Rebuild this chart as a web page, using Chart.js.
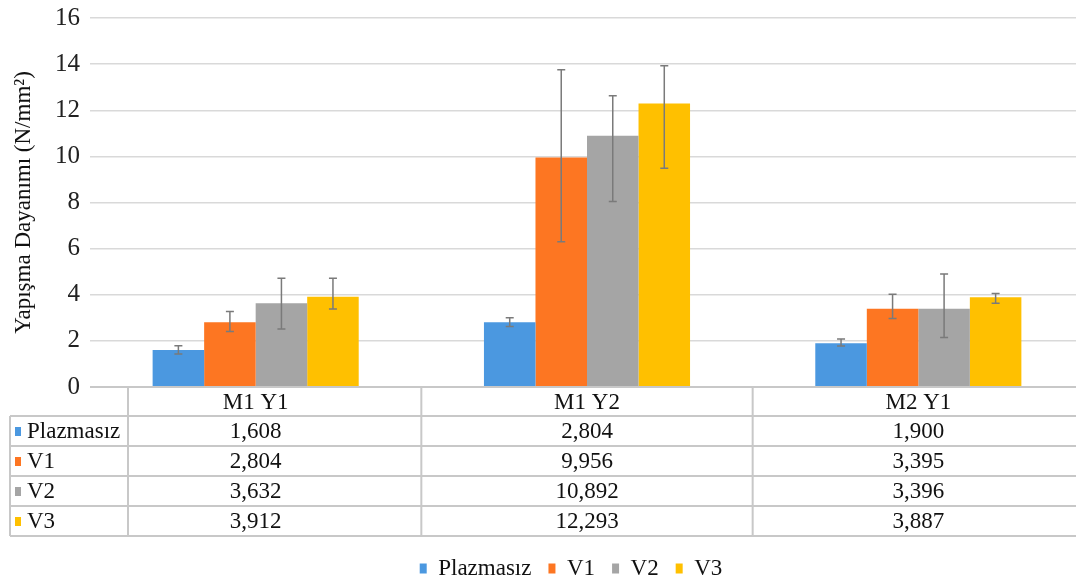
<!DOCTYPE html>
<html>
<head>
<meta charset="utf-8">
<script src="https://cdn.jsdelivr.net/npm/chart.js@4/dist/chart.umd.min.js"></script>
<style>
  html, body { margin: 0; padding: 0; background: #fff; overflow: hidden; }
  #wrap { width: 1084px; height: 590px; }
</style>
</head>
<body>
<div id="wrap"><canvas id="yapismaChart"></canvas></div>
<script>
// categories and series
const categories = ['M1 Y1', 'M1 Y2', 'M2 Y1'];
const seriesNames = ['Plazmasız', 'V1', 'V2', 'V3'];
const plazmasiz = [1.608, 2.804, 1.900];
const v1 = [2.804, 9.956, 3.395];
const v2 = [3.632, 10.892, 3.396];
const v3 = [3.912, 12.293, 3.887];

// error bars (up / down from the mean)
const plazmasizErrUp = [0.18, 0.20, 0.18];
const plazmasizErrDown = [0.18, 0.18, 0.12];
const v1ErrUp = [0.47, 3.80, 0.63];
const v1ErrDown = [0.40, 3.66, 0.42];
const v2ErrUp = [1.08, 1.74, 1.50];
const v2ErrDown = [1.12, 2.85, 1.25];
const v3ErrUp = [0.80, 1.64, 0.17];
const v3ErrDown = [0.53, 2.81, 0.26];

// y axis
const yMin = 0;
const yMax = 16;
const yStep = 2;

const colors = ['#4b98e0', '#fd7622', '#a5a5a5', '#ffc000'];
const serif = "'Liberation Serif', 'DejaVu Serif', serif";
const textColor = '#111';

const seriesValues = [plazmasiz, v1, v2, v3];
const errUp = [plazmasizErrUp, v1ErrUp, v2ErrUp, v3ErrUp];
const errDown = [plazmasizErrDown, v1ErrDown, v2ErrDown, v3ErrDown];

const errorBarPlugin = {
    id: 'errorBars',
    afterDatasetsDraw(chart) {
        const ctx = chart.ctx;
        const yScale = chart.scales.y;
        ctx.save();
        ctx.strokeStyle = '#7a7a7a';
        ctx.lineWidth = 1.5;
        chart.data.datasets.forEach((ds, i) => {
            const meta = chart.getDatasetMeta(i);
            meta.data.forEach((bar, j) => {
                const v = ds.data[j];
                const top = yScale.getPixelForValue(v + errUp[i][j]);
                const bot = yScale.getPixelForValue(v - errDown[i][j]);
                const x = bar.x;
                ctx.beginPath();
                ctx.moveTo(x, top); ctx.lineTo(x, bot);
                ctx.moveTo(x - 4, top); ctx.lineTo(x + 4, top);
                ctx.moveTo(x - 4, bot); ctx.lineTo(x + 4, bot);
                ctx.stroke();
            });
        });
        ctx.restore();
    }
};

const dataTablePlugin = {
    id: 'dataTable',
    afterDraw(chart) {
        const ctx = chart.ctx;
        const xScale = chart.scales.x;
        const area = chart.chartArea;
        const top = area.bottom;
        const headerH = 29;
        const rowH = 30;
        const labelLeft = 10;
        const labelRight = 128;
        const right = chart.width;
        const bottom = top + headerH + rowH * seriesNames.length;

        ctx.save();
        ctx.strokeStyle = '#c8c8c8';
        ctx.lineWidth = 2;
        // axis line / table top
        ctx.beginPath();
        ctx.moveTo(area.left, top); ctx.lineTo(right, top);
        ctx.stroke();
        // row lines
        for (let r = 0; r <= seriesNames.length; r++) {
            const y = top + headerH + r * rowH;
            ctx.beginPath();
            ctx.moveTo(labelLeft, y); ctx.lineTo(right, y);
            ctx.stroke();
        }
        // vertical lines
        ctx.beginPath();
        ctx.moveTo(labelLeft, top + headerH); ctx.lineTo(labelLeft, bottom);
        ctx.moveTo(labelRight, top); ctx.lineTo(labelRight, bottom);
        for (let c = 0; c < categories.length - 1; c++) {
            const x = (xScale.getPixelForValue(c) + xScale.getPixelForValue(c + 1)) / 2;
            ctx.moveTo(x, top); ctx.lineTo(x, bottom);
        }
        ctx.stroke();

        ctx.fillStyle = textColor;
        ctx.font = '23px ' + serif;
        ctx.textBaseline = 'middle';
        ctx.textAlign = 'center';
        categories.forEach((cat, c) => {
            ctx.fillText(cat, xScale.getPixelForValue(c), top + headerH / 2 + 1);
        });
        seriesNames.forEach((name, r) => {
            const cy = top + headerH + r * rowH + rowH / 2 + 1;
            ctx.fillStyle = colors[r];
            ctx.fillRect(15, cy - 5, 6, 9);
            ctx.fillStyle = textColor;
            ctx.textAlign = 'left';
            ctx.fillText(name, 27, cy);
            ctx.textAlign = 'center';
            seriesValues[r].forEach((v, c) => {
                ctx.fillText(v.toFixed(3).replace('.', ','), xScale.getPixelForValue(c), cy);
            });
        });
        ctx.restore();
    }
};

// the legend in the picture sits a little right of the page centre
const legendShift = {
    id: 'legendShift',
    afterLayout(chart) {
        chart.legend.left += 29;
        chart.legend.right += 29;
    }
};

const ctx = document.getElementById('yapismaChart').getContext('2d');
new Chart(ctx, {
    type: 'bar',
    data: {
        labels: categories,
        datasets: seriesNames.map((name, i) => ({
            label: name,
            data: seriesValues[i],
            backgroundColor: colors[i],
            borderWidth: 0,
        })),
    },
    options: {
        responsive: true,
        maintainAspectRatio: false,
        animation: false,
        layout: { padding: { top: 18, left: 0, right: 0, bottom: 0 } },
        datasets: {
            bar: { barPercentage: 1, categoryPercentage: 0.622 },
        },
        plugins: {
            tooltip: { enabled: false },
            legend: {
                position: 'bottom',
                labels: {
                    boxWidth: 7,
                    boxHeight: 10,
                    padding: 17,
                    color: textColor,
                    font: { family: serif, size: 23 },
                },
            },
        },
        scales: {
            x: {
                grid: { display: false },
                border: { display: false },
                ticks: { display: false },
                afterFit: (scale) => { scale.height = 153; },
            },
            y: {
                min: yMin,
                max: yMax,
                ticks: {
                    stepSize: yStep,
                    padding: 10,
                    color: '#222',
                    font: { family: serif, size: 25 },
                },
                grid: { color: '#d9d9d9', lineWidth: 1.5, drawTicks: false },
                border: { display: false },
                title: {
                    display: true,
                    text: 'Yapışma Dayanımı (N/mm²)',
                    color: textColor,
                    padding: { top: 10, bottom: 0 },
                    font: { family: serif, size: 23 },
                },
                afterFit: (scale) => {
                    scale.width = 90;
                    scale.paddingTop = 0;
                    scale.paddingBottom = 0;
                },
            },
        },
    },
    plugins: [errorBarPlugin, dataTablePlugin, legendShift],
});
</script>
</body>
</html>
